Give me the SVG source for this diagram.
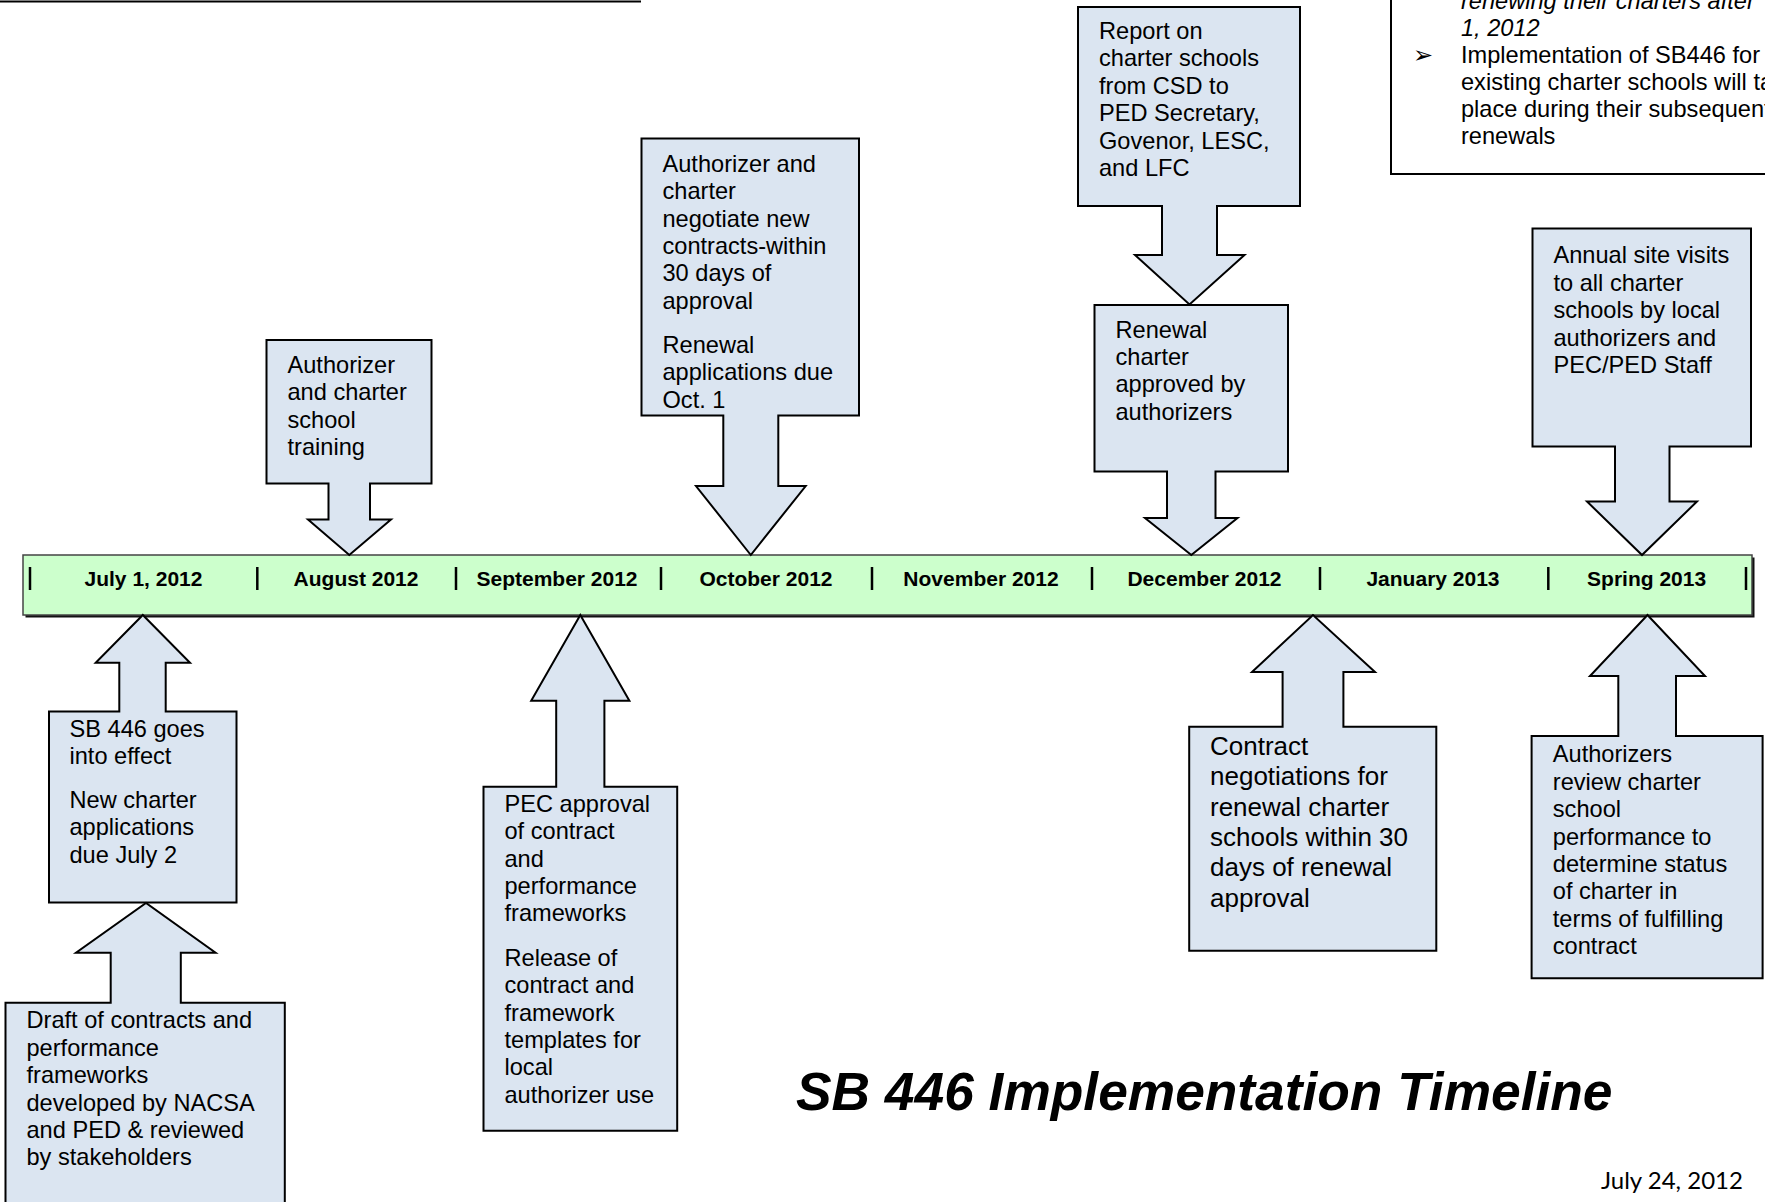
<svg xmlns="http://www.w3.org/2000/svg" width="1765" height="1202" viewBox="0 0 1765 1202">
<style>
.co{fill:#DBE5F1;stroke:#000;stroke-width:2;stroke-linejoin:miter}
.t{font-family:"Liberation Sans",Arial,sans-serif;font-size:23.6px;fill:#000}
.tb{font-family:"Liberation Sans",Arial,sans-serif;font-size:26px;fill:#000}
.lbl{font-family:"Liberation Sans",Arial,sans-serif;font-size:21px;font-weight:bold;fill:#000;text-anchor:middle}
.sep{stroke:#000;stroke-width:2.5}
.it{font-style:italic}
</style>
<rect width="1765" height="1202" fill="#fff"/>
<line x1="0" y1="1.5" x2="641" y2="1.5" stroke="#000" stroke-width="2"/>

<g id="note">
<rect x="1391" y="-20" width="400" height="194" fill="#fff" stroke="#000" stroke-width="2"/>
<text class="t it" x="1461" y="9">renewing their charters after</text>
<text class="t it" x="1461" y="36">1, 2012</text>
<text class="t" x="1413" y="63" font-size="19">➢</text>
<text class="t" x="1461" y="63">Implementation of SB446 for</text>
<text class="t" x="1461" y="90">existing charter schools will take</text>
<text class="t" x="1461" y="117">place during their subsequent</text>
<text class="t" x="1461" y="144">renewals</text>
</g>

<g id="timeline">
<rect x="25.5" y="557.5" width="1729" height="60" fill="#111"/>
<rect x="23" y="555" width="1729" height="60" fill="#CCFFCC" stroke="#444" stroke-width="1.5"/>
<g>
<line class="sep" x1="30" y1="567" x2="30" y2="590"/>
<line class="sep" x1="257.3" y1="567" x2="257.3" y2="590"/>
<line class="sep" x1="456" y1="567" x2="456" y2="590"/>
<line class="sep" x1="661" y1="567" x2="661" y2="590"/>
<line class="sep" x1="872" y1="567" x2="872" y2="590"/>
<line class="sep" x1="1092" y1="567" x2="1092" y2="590"/>
<line class="sep" x1="1320" y1="567" x2="1320" y2="590"/>
<line class="sep" x1="1548.3" y1="567" x2="1548.3" y2="590"/>
<line class="sep" x1="1746" y1="567" x2="1746" y2="590"/>
</g>
<text class="lbl" x="143.5" y="586">July 1, 2012</text>
<text class="lbl" x="356" y="586">August 2012</text>
<text class="lbl" x="557" y="586">September 2012</text>
<text class="lbl" x="766" y="586">October 2012</text>
<text class="lbl" x="981" y="586">November 2012</text>
<text class="lbl" x="1204.5" y="586">December 2012</text>
<text class="lbl" x="1433" y="586">January 2013</text>
<text class="lbl" x="1646.6" y="586">Spring 2013</text>
</g>

<g id="connectors"></g>

<g id="aug">
<path class="co" d="M266.5,340 H431.5 V483.5 H370 V519.5 H391 L349.3,555 L308,519.5 H328.5 V483.5 H266.5 Z"/>
<text class="t" x="287.5" y="373">Authorizer</text>
<text class="t" x="287.5" y="400.4">and charter</text>
<text class="t" x="287.5" y="427.8">school</text>
<text class="t" x="287.5" y="455.2">training</text>
</g>

<g id="oct">
<path class="co" d="M641.5,138.5 H859 V415.5 H778.3 V486 H805.7 L750.8,555 L696,486 H723.3 V415.5 H641.5 Z"/>
<text class="t" x="662.5" y="171.7">Authorizer and</text>
<text class="t" x="662.5" y="199.1">charter</text>
<text class="t" x="662.5" y="226.5">negotiate new</text>
<text class="t" x="662.5" y="253.9">contracts-within</text>
<text class="t" x="662.5" y="281.3">30 days of</text>
<text class="t" x="662.5" y="308.7">approval</text>
<text class="t" x="662.5" y="353">Renewal</text>
<text class="t" x="662.5" y="380.4">applications due</text>
<text class="t" x="662.5" y="407.8">Oct. 1</text>
</g>

<g id="report">
<path class="co" d="M1078,7 H1300 V206 H1217 V255 H1244.5 L1189.5,304.5 L1135,255 H1162 V206 H1078 Z"/>
<text class="t" x="1099" y="39">Report on</text>
<text class="t" x="1099" y="66.4">charter schools</text>
<text class="t" x="1099" y="93.8">from CSD to</text>
<text class="t" x="1099" y="121.2">PED Secretary,</text>
<text class="t" x="1099" y="148.6">Govenor, LESC,</text>
<text class="t" x="1099" y="176">and LFC</text>
</g>

<g id="renewal">
<path class="co" d="M1094.5,305 H1288 V471.5 H1215.5 V518 H1237.5 L1191.3,555 L1145,518 H1167 V471.5 H1094.5 Z"/>
<text class="t" x="1115.5" y="337.5">Renewal</text>
<text class="t" x="1115.5" y="364.9">charter</text>
<text class="t" x="1115.5" y="392.3">approved by</text>
<text class="t" x="1115.5" y="419.7">authorizers</text>
</g>

<g id="annual">
<path class="co" d="M1532.5,228.5 H1751 V446.5 H1669.5 V501.5 H1697 L1642,555 L1587,501.5 H1615 V446.5 H1532.5 Z"/>
<text class="t" x="1553.5" y="263.3">Annual site visits</text>
<text class="t" x="1553.5" y="290.7">to all charter</text>
<text class="t" x="1553.5" y="318.1">schools by local</text>
<text class="t" x="1553.5" y="345.5">authorizers and</text>
<text class="t" x="1553.5" y="372.9">PEC/PED Staff</text>
</g>

<g id="sb446">
<path class="co" d="M49,711.5 H119.3 V662.7 H95.7 L142.8,615 L190,662.7 H165.7 V711.5 H236.5 V902.5 H49 Z"/>
<text class="t" x="69.5" y="736.7">SB 446 goes</text>
<text class="t" x="69.5" y="764.1">into effect</text>
<text class="t" x="69.5" y="808">New charter</text>
<text class="t" x="69.5" y="835.4">applications</text>
<text class="t" x="69.5" y="862.8">due July 2</text>
</g>

<g id="draft">
<path class="co" d="M5.5,1002.7 H110.7 V952.7 H76 L146,903 L215.6,952.7 H180.8 V1002.7 H284.8 V1215 H5.5 Z"/>
<text class="t" x="26.5" y="1028.3">Draft of contracts and</text>
<text class="t" x="26.5" y="1055.7">performance</text>
<text class="t" x="26.5" y="1083.1">frameworks</text>
<text class="t" x="26.5" y="1110.5">developed by NACSA</text>
<text class="t" x="26.5" y="1137.9">and PED &amp; reviewed</text>
<text class="t" x="26.5" y="1165.3">by stakeholders</text>
</g>

<g id="pec">
<path class="co" d="M483.5,786.7 H556.2 V700.7 H531.2 L580.3,615 L629.4,700.7 H604.4 V786.7 H677.2 V1130.7 H483.5 Z"/>
<text class="t" x="504.5" y="811.7">PEC approval</text>
<text class="t" x="504.5" y="839.1">of contract</text>
<text class="t" x="504.5" y="866.5">and</text>
<text class="t" x="504.5" y="893.9">performance</text>
<text class="t" x="504.5" y="921.3">frameworks</text>
<text class="t" x="504.5" y="965.8">Release of</text>
<text class="t" x="504.5" y="993.2">contract and</text>
<text class="t" x="504.5" y="1020.6">framework</text>
<text class="t" x="504.5" y="1048">templates for</text>
<text class="t" x="504.5" y="1075.4">local</text>
<text class="t" x="504.5" y="1102.8">authorizer use</text>
</g>

<g id="contract">
<path class="co" d="M1189.2,726.7 H1282.6 V672 H1252 L1313,615 L1375,672 H1343.4 V726.7 H1436.3 V950.7 H1189.2 Z"/>
<text class="tb" x="1210" y="755">Contract</text>
<text class="tb" x="1210" y="785.3">negotiations for</text>
<text class="tb" x="1210" y="815.6">renewal charter</text>
<text class="tb" x="1210" y="845.9">schools within 30</text>
<text class="tb" x="1210" y="876.2">days of renewal</text>
<text class="tb" x="1210" y="906.5">approval</text>
</g>

<g id="authorizers">
<path class="co" d="M1531.6,736 H1618.3 V676 H1590 L1647.5,615 L1705,676 H1676 V736 H1762.6 V978.3 H1531.6 Z"/>
<text class="t" x="1552.8" y="762.3">Authorizers</text>
<text class="t" x="1552.8" y="789.7">review charter</text>
<text class="t" x="1552.8" y="817.1">school</text>
<text class="t" x="1552.8" y="844.5">performance to</text>
<text class="t" x="1552.8" y="871.9">determine status</text>
<text class="t" x="1552.8" y="899.3">of charter in</text>
<text class="t" x="1552.8" y="926.7">terms of fulfilling</text>
<text class="t" x="1552.8" y="954.1">contract</text>
</g>

<text x="796" y="1110" font-family="Liberation Sans, Arial, sans-serif" font-size="53.3" font-weight="bold" font-style="italic" fill="#000">SB 446 Implementation Timeline</text>
<text x="1601" y="1189" font-family="Lato, Carlito, sans-serif" font-size="24" fill="#000">July 24, 2012</text>
</svg>
